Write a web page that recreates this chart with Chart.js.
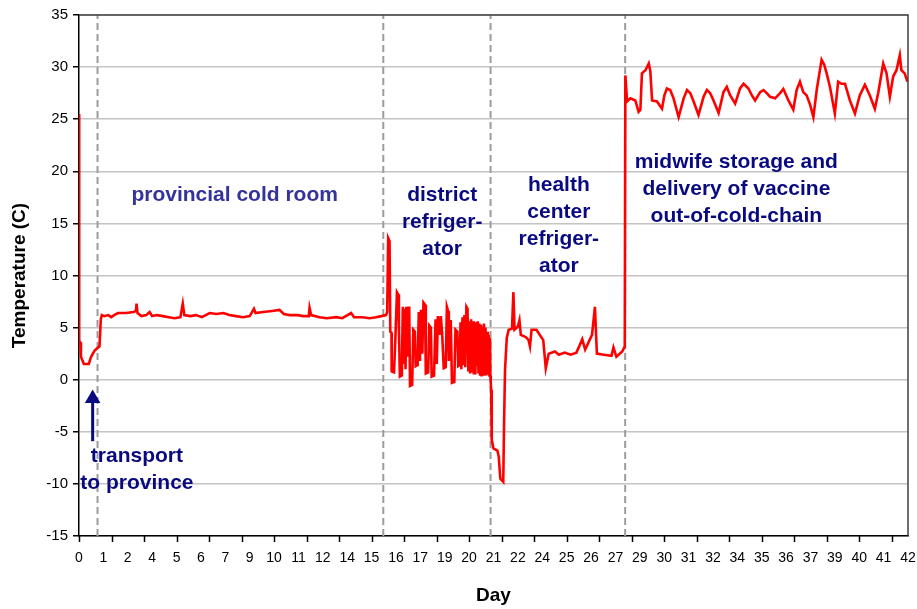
<!DOCTYPE html>
<html>
<head>
<meta charset="utf-8">
<script src="https://cdn.jsdelivr.net/npm/chart.js@4/dist/chart.umd.min.js"></script>
<style>
  html, body { margin: 0; padding: 0; background: #fff; }
  #wrap { width: 917px; height: 609px; }
</style>
</head>
<body>
<div id="wrap"><canvas id="chart" width="917" height="609"></canvas></div>
<script>
// Temperature logger record along the vaccine cold chain.
// Each stage keeps its own elapsed-time (days) and temperature (°C) readings.

// transport to province and the provincial cold room
const coldRoomDays = [
  0.00, 0.01, 0.06, 0.10, 0.25, 0.50, 0.62, 0.80, 0.92, 1.05,
  1.12, 1.17, 1.30, 1.50, 1.65, 1.80, 2.00, 2.40, 2.80, 2.92,
  2.95, 3.00, 3.20, 3.45, 3.62, 3.75, 4.00, 4.30, 4.60, 4.90,
  5.20, 5.32, 5.40, 5.70, 6.00, 6.30, 6.70, 7.05, 7.40, 7.70,
  8.05, 8.40, 8.75, 8.97, 9.05, 9.45, 9.90, 10.28, 10.50, 10.80,
  11.20, 11.50, 11.78, 11.82, 11.90, 12.33, 12.70, 13.18, 13.50, 13.95,
  14.10, 14.54, 14.90, 15.23, 15.50
];
const coldRoomTemps = [
  25.5, 3.7, 3.6, 2.2, 1.5, 1.5, 2.2, 2.8, 3.0, 3.2,
  5.8, 6.2, 6.1, 6.2, 6.0, 6.2, 6.4, 6.4, 6.5, 6.6,
  7.3, 6.4, 6.1, 6.2, 6.5, 6.1, 6.2, 6.1, 6.0, 5.9,
  6.0, 7.3, 6.2, 6.1, 6.2, 6.0, 6.4, 6.3, 6.4, 6.2,
  6.1, 6.0, 6.1, 6.8, 6.4, 6.5, 6.6, 6.7, 6.3, 6.2,
  6.2, 6.1, 6.1, 6.9, 6.2, 6.0, 5.9, 6.0, 5.9, 6.4,
  6.0, 6.0, 5.9, 6.0, 6.1
];

// district refrigerator
const districtDays = [
  15.74, 15.80, 15.85, 15.92, 15.96, 16.02, 16.03, 16.15, 16.22, 16.30,
  16.36, 16.40, 16.45, 16.55, 16.60, 16.64, 16.68, 16.74, 16.78, 16.84,
  16.88, 16.93, 16.97, 17.08, 17.14, 17.22, 17.26, 17.36, 17.42, 17.48,
  17.53, 17.60, 17.66, 17.74, 17.78, 17.90, 17.96, 18.04, 18.08, 18.20,
  18.28, 18.34, 18.40, 18.48, 18.55, 18.62, 18.70, 18.80, 18.86, 18.92,
  18.96, 19.00, 19.06, 19.12, 19.24, 19.30, 19.40, 19.44, 19.52, 19.56,
  19.60, 19.66, 19.70, 19.76, 19.80, 19.86, 19.92, 19.96, 20.00, 20.05,
  20.10, 20.15, 20.20, 20.24, 20.28, 20.32, 20.36, 20.40, 20.44, 20.48,
  20.52, 20.56, 20.60, 20.64, 20.68, 20.72, 20.76, 20.80, 20.84, 20.88,
  20.92, 20.96, 21.00, 21.04, 21.07, 21.09, 21.11
];
const districtTemps = [
  6.2, 6.5, 13.6, 13.3, 4.6, 4.5, 0.8, 0.7, 4.0, 8.4,
  8.2, 5.0, 0.3, 0.4, 7.0, 1.5, 6.8, 1.0, 7.0, 2.2,
  6.9, 6.9, -0.6, -0.5, 4.8, 4.6, 1.3, 1.4, 6.5, 1.8,
  6.7, 2.5, 7.4, 7.2, 0.6, 0.7, 5.2, 5.0, 0.3, 0.4,
  5.8, 1.5, 6.1, 4.3, 6.1, 4.3, 1.1, 1.2, 7.0, 6.6,
  1.8, 5.6, 5.6, -0.3, -0.2, 4.8, 4.6, 1.3, 1.4, 5.5,
  1.0, 6.0, 1.4, 6.2, 1.2, 7.0, 6.8, 0.8, 5.6, 0.6,
  5.8, 0.7, 5.6, 0.5, 5.4, 0.5, 5.5, 1.3, 5.6, 0.6,
  5.4, 0.5, 5.3, 0.3, 5.1, 0.5, 5.4, 0.5, 5.0, 0.4,
  4.6, 0.5, 4.3, 0.4, 4.0, 0.4, -0.3
];

// transfer to and storage in the health center refrigerator
const healthDays = [
  21.13, 21.16, 21.25, 21.45, 21.52, 21.60, 21.75, 21.79, 21.84, 21.93,
  22.03, 22.20, 22.27, 22.33, 22.50, 22.58, 22.65, 22.90, 23.05, 23.12,
  23.20, 23.45, 23.80, 23.93, 24.08, 24.40, 24.60, 24.90, 25.20, 25.50,
  25.62, 25.80, 25.95, 26.30, 26.45, 26.55, 26.90, 27.30, 27.40, 27.55,
  27.85, 27.98
];
const healthTemps = [
  -1.0, -5.8, -6.6, -6.8, -7.4, -9.5, -9.8, -4.4, 0.9, 4.0,
  4.8, 4.9, 8.4, 4.8, 5.1, 5.7, 4.3, 4.1, 3.8, 3.2,
  4.8, 4.8, 3.8, 1.1, 2.5, 2.7, 2.4, 2.6, 2.4, 2.6,
  3.1, 3.9, 2.9, 4.3, 7.0, 2.5, 2.4, 2.3, 3.1, 2.2,
  2.7, 3.2
];

// midwife storage and delivery, outside the cold chain
const midwifeDays = [
  28.01, 28.10, 28.27, 28.52, 28.69, 28.78, 28.86, 29.04, 29.21, 29.29,
  29.38, 29.63, 29.89, 30.01, 30.14, 30.31, 30.48, 30.74, 31.00, 31.17,
  31.34, 31.51, 31.76, 32.02, 32.19, 32.36, 32.53, 32.79, 33.04, 33.21,
  33.38, 33.64, 33.89, 34.07, 34.32, 34.49, 34.66, 34.92, 35.09, 35.26,
  35.43, 35.69, 35.94, 36.11, 36.37, 36.62, 36.79, 36.96, 37.13, 37.30,
  37.48, 37.65, 37.82, 38.07, 38.21, 38.33, 38.50, 38.75, 38.92, 39.09,
  39.27, 39.52, 39.78, 40.03, 40.29, 40.54, 40.80, 40.97, 41.23, 41.40,
  41.57, 41.74, 41.91, 42.08, 42.16, 42.33, 42.47
];
const midwifeTemps = [
  29.2, 26.7, 27.0, 26.8, 25.7, 25.9, 29.4, 29.7, 30.35, 29.6,
  26.8, 26.7, 26.0, 27.3, 27.95, 27.8, 27.0, 25.2, 27.0, 27.8,
  27.5, 26.7, 25.4, 27.15, 27.8, 27.5, 26.8, 25.6, 27.6, 28.1,
  27.3, 26.5, 27.95, 28.4, 27.95, 27.3, 26.8, 27.6, 27.8, 27.5,
  27.15, 27.0, 27.5, 27.9, 26.8, 25.9, 27.8, 28.6, 27.6, 27.3,
  26.4, 25.2, 27.8, 30.7, 30.2, 29.4, 28.1, 25.55, 28.6, 28.4,
  28.4, 26.8, 25.55, 27.3, 28.3, 27.3, 26.0, 27.5, 30.35, 29.4,
  27.15, 29.1, 29.7, 31.15, 29.7, 29.4, 28.6
];

// day numbers printed under the axis, one label every 1.25 days
const dayTickLabels = ['0', '1', '2', '4', '5', '6', '7', '9', '10', '11', '12', '14', '15', '16', '17',
  '19', '20', '21', '22', '24', '25', '26', '27', '29', '30', '31', '32', '34', '35', '36', '37',
  '39', '40', '41', '42'];
const labelStep = 1.25;
const markStep = 5 / 3;          // spacing of the small tick marks on the day axis
const dayMax = 42.5;
const tempMin = -15, tempMax = 35, tempStep = 5;

// days at which the vaccine moved to the next storage stage
const stageBoundaries = [0.95, 15.6, 21.1, 28.0];

// stage captions: lines, day, temperature of the first line
const stageNotes = [
  { lines: ['provincial cold room'], day: 7.98, temp: 17.7, color: '#333399' },
  { lines: ['district', 'refriger-', 'ator'], day: 18.62, temp: 17.7, color: '#0a0a80' },
  { lines: ['health', 'center', 'refriger-', 'ator'], day: 24.6, temp: 18.65, color: '#0a0a80' },
  { lines: ['midwife storage and', 'delivery of vaccine', 'out-of-cold-chain'], day: 33.7, temp: 20.9, color: '#0a0a80' },
  { lines: ['transport', 'to province'], day: 2.97, temp: -7.3, color: '#0a0a80' }
];
// arrow pointing at the transport dip
const arrowDay = 0.7;
const arrowFrom = -5.9, arrowTo = -1.8;

const FONT = '"Liberation Sans", Arial, Helvetica, sans-serif';

const stages = [
  [coldRoomDays, coldRoomTemps],
  [districtDays, districtTemps],
  [healthDays, healthTemps],
  [midwifeDays, midwifeTemps]
];
const temperatureSeries = stages.flatMap(([ds, ts]) => ds.map((d, i) => ({ x: d, y: ts[i] })));

const boundarySets = stageBoundaries.map(b => ({
  data: [{ x: b, y: tempMin }, { x: b, y: tempMax }],
  borderColor: '#9c9c9c',
  borderWidth: 2,
  borderDash: [7, 4],
  pointRadius: 0,
  fill: false
}));

const arrowSet = {
  data: [{ x: arrowDay, y: arrowFrom }, { x: arrowDay, y: arrowTo }],
  borderColor: '#0a0a80',
  borderWidth: 3,
  pointRadius: [0, 9],
  pointStyle: 'triangle',
  pointBackgroundColor: '#0a0a80',
  pointBorderColor: '#0a0a80',
  pointBorderWidth: 0,
  fill: false
};

const captionPlugin = {
  id: 'stageCaptions',
  afterDatasetsDraw(chart) {
    const { ctx, scales: { x, y } } = chart;
    ctx.save();
    ctx.textAlign = 'center';
    ctx.textBaseline = 'middle';
    ctx.font = 'bold 21px ' + FONT;
    stageNotes.forEach(n => {
      ctx.fillStyle = n.color;
      const cx = x.getPixelForValue(n.day);
      const cy = y.getPixelForValue(n.temp);
      n.lines.forEach((t, i) => ctx.fillText(t, cx, cy + i * 27));
    });
    ctx.restore();
  }
};

const framePlugin = {
  id: 'plotFrame',
  afterDraw(chart) {
    const { ctx, chartArea: a, scales: { x } } = chart;
    ctx.save();
    // top and right edges of the plot box
    ctx.strokeStyle = '#404040';
    ctx.lineWidth = 1.5;
    ctx.beginPath();
    ctx.moveTo(a.left, a.top);
    ctx.lineTo(a.right, a.top);
    ctx.lineTo(a.right, a.bottom);
    ctx.stroke();
    // small tick marks below the day axis
    ctx.strokeStyle = '#000';
    ctx.lineWidth = 1.5;
    ctx.beginPath();
    for (let v = 0; v <= dayMax + 1e-6; v += markStep) {
      const px = Math.round(x.getPixelForValue(v)) + 0.5;
      ctx.moveTo(px, a.bottom);
      ctx.lineTo(px, a.bottom + 6);
    }
    ctx.stroke();
    ctx.restore();
  }
};

new Chart(document.getElementById('chart'), {
  type: 'line',
  data: {
    datasets: [
      {
        data: temperatureSeries,
        borderColor: '#ff0000',
        borderWidth: 2.6,
        pointRadius: 0,
        tension: 0,
        fill: false
      },
      arrowSet,
      ...boundarySets
    ]
  },
  options: {
    responsive: false,
    animation: false,
    devicePixelRatio: 1,
    layout: { padding: { top: 15, right: 2, left: 0, bottom: 0 } },
    plugins: {
      legend: { display: false },
      tooltip: { enabled: false }
    },
    scales: {
      x: {
        type: 'linear',
        min: 0,
        max: dayMax,
        afterBuildTicks(scale) {
          scale.ticks = dayTickLabels.map((_, i) => ({ value: i * labelStep }));
        },
        afterFit(scale) {
          scale.height = 73;
          scale.paddingLeft = 0;
          scale.paddingRight = 0;
        },
        ticks: {
          autoSkip: false,
          maxRotation: 0,
          minRotation: 0,
          padding: 8,
          color: '#000',
          font: { family: FONT, size: 14 },
          callback: (v) => dayTickLabels[Math.round(v / labelStep)]
        },
        grid: {
          drawOnChartArea: false,
          color: 'rgba(0,0,0,0)',
          tickLength: 6
        },
        border: { color: '#000', width: 1.5 },
        title: {
          display: true,
          text: 'Day',
          color: '#000',
          font: { family: FONT, size: 19, weight: 'bold' },
          padding: { top: 0, bottom: 2 }
        }
      },
      y: {
        min: tempMin,
        max: tempMax,
        afterFit(scale) {
          scale.width = 79;
          scale.paddingTop = 0;
          scale.paddingBottom = 0;
        },
        ticks: {
          stepSize: tempStep,
          padding: 5,
          color: '#000',
          font: { family: FONT, size: 15 }
        },
        grid: {
          color: '#c4c4c4',
          lineWidth: 1.5,
          tickColor: '#000',
          tickLength: 6
        },
        border: { color: '#000', width: 1.5 },
        title: {
          display: true,
          text: 'Temperature (C)',
          color: '#000',
          font: { family: FONT, size: 19, weight: 'bold' },
          padding: { top: 8, bottom: 0 }
        }
      }
    }
  },
  plugins: [captionPlugin, framePlugin]
});
</script>
</body>
</html>
